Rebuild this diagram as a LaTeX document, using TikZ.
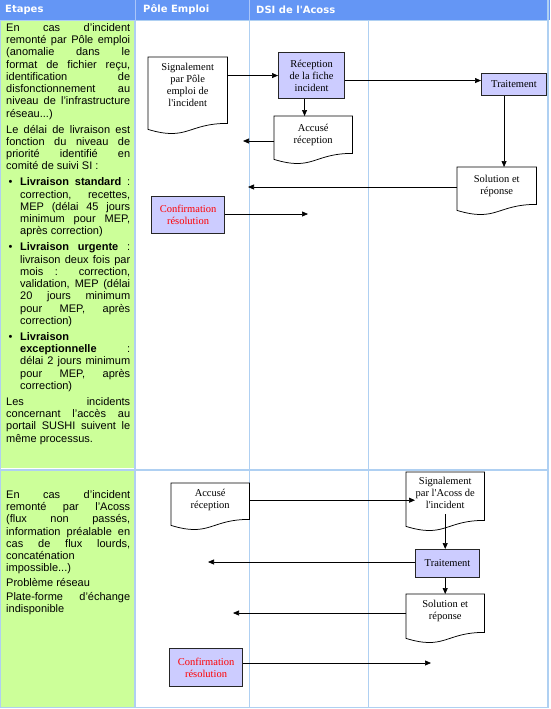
\documentclass[tikz,border=0pt]{standalone}
\usepackage{fontspec}
\setmainfont{Liberation Sans}
\newfontfamily\boxfont{Liberation Serif}
\newfontfamily\headfont{DejaVu Sans}
\usetikzlibrary{arrows.meta}
\usetikzlibrary{calc}

\definecolor{headblue}{RGB}{100,150,245}
\definecolor{gridblue}{RGB}{175,208,242}
\definecolor{stepgreen}{RGB}{204,255,153}
\definecolor{boxlilac}{RGB}{204,204,255}

\newcommand{\docoutline}[2]{%
  \draw[docline] (#1.north west) -- (#1.north east) -- ([yshift=-#2pt]#1.south east)
    .. controls ([yshift=-#2pt]#1.south) and ([yshift=-#2pt-18pt]#1.south)
    .. ([yshift=-#2pt-6pt]#1.south west) -- cycle;}
\newcommand{\stepsetup}[1]{\setlength{\parindent}{0pt}\setlength{\parskip}{#1}%
  \hbadness=10000 \hyphenpenalty=10000 \exhyphenpenalty=10000\relax}
\newcommand{\bulletpar}{\hangindent=14pt\hangafter=1\noindent\makebox[14pt][l]{\hspace{2.5pt}•}}

\begin{document}
\begin{tikzpicture}[x=1pt,y=-1pt,
    gridline/.style={draw=gridblue, line width=1.2pt},
    headtext/.style={anchor=west, inner sep=0pt, text=white, font=\headfont\bfseries\fontsize{10}{11}\selectfont},
    steptext/.style={anchor=north west, inner sep=0pt, text width=124pt, align=justify,
      font=\fontsize{11}{12.3}\selectfont},
    boxtext/.style={inner sep=0pt, align=center, anchor=north west, font=\boxfont\fontsize{10.5}{12}\selectfont},
    procbox/.style={boxtext, draw=black!85, line width=1.1pt, fill=boxlilac},
    docbox/.style={boxtext},
    docline/.style={draw=black, line width=0.75pt},
    flow/.style={-{Triangle[length=6pt,width=5pt]}, line width=0.7pt}]

  \useasboundingbox (0,0) rectangle (550,709);
  \fill[white] (0,0) rectangle (550,709);
  \fill[headblue] (0,0) rectangle (550,20);
  \fill[stepgreen] (1,21) rectangle (134,468);
  \fill[stepgreen] (1,471) rectangle (134,707);

  \draw[gridline] (0.6,20.5) -- (548,20.5);
  \draw[gridline, line width=2pt] (0.6,469.5) -- (548,469.5);
  \draw[gridline] (0.6,707.6) -- (548,707.6);
  \draw[gridline] (0.6,20) -- (0.6,708);
  \draw[gridline] (135,20) -- (135,708);
  \draw[gridline] (249.5,20) -- (249.5,708);
  \draw[gridline] (368.5,20) -- (368.5,708);
  \draw[gridline] (548,0) -- (548,708);
  \draw[headblue!55!white, line width=1pt] (135,0) -- (135,20);
  \draw[headblue!55!white, line width=1pt] (249.5,0) -- (249.5,20);

  \node[headtext] (headSteps) at (5,10) {Etapes};
  \node[headtext] (headPole) at (143,10) {Pôle Emploi};
  \node[headtext] (headDsi) at (256,10) {DSI de l'Acoss};

  \node[steptext] (stepsPole) at (6,23) {\stepsetup{3.5pt}%
    En cas d'incident\linebreak remonté par Pôle emploi\linebreak (anomalie dans le\linebreak
    format de fichier reçu,\linebreak identification de\linebreak disfonctionnement au\linebreak
    niveau de l'infrastructure\linebreak réseau...)\par
    Le délai de livraison est\linebreak fonction du niveau de\linebreak priorité identifié en\linebreak
    comité de suivi SI~:\par
    \bulletpar\textbf{Livraison standard}~:\linebreak correction, recettes,\linebreak
    MEP (délai 45 jours\linebreak minimum pour MEP,\linebreak après correction)\par
    \bulletpar\textbf{Livraison urgente}~:\linebreak livraison deux fois par\linebreak
    mois~: correction,\linebreak validation, MEP (délai\linebreak 20 jours minimum\linebreak
    pour MEP, après\linebreak correction)\par
    \bulletpar\textbf{Livraison}\linebreak \textbf{exceptionnelle}~:\linebreak
    délai 2 jours minimum\linebreak pour MEP, après\linebreak correction)\par
    Les incidents\linebreak concernant l'accès au\linebreak portail SUSHI suivent le\linebreak
    même processus.};

  \node[steptext] (stepsAcoss) at (6,490) {\stepsetup{2pt}%
    En cas d'incident\linebreak remonté par l'Acoss\linebreak (flux non passés,\linebreak
    information préalable en\linebreak cas de flux lourds,\linebreak concaténation\linebreak
    impossible...)\par
    Problème réseau\par
    Plate-forme d'échange\linebreak indisponible};

  \node[docbox, minimum width=79, minimum height=55] (sigPole) at (148,57)
    {Signalement\\par Pôle\\emploi de\\l'incident};
  \node[procbox, minimum width=66, minimum height=46] (recep) at (278,52)
    {Réception\\de la fiche\\incident};
  \node[procbox, minimum width=65, minimum height=22] (trait1) at (481,73) {Traitement};
  \node[docbox, minimum width=78, minimum height=37] (accus1) at (274,116) {Accusé\\réception};
  \node[docbox, minimum width=79, minimum height=37] (sol1) at (457,167) {Solution et\\réponse};
  \node[procbox, text=red, minimum width=73, minimum height=37] (conf1) at (151,196)
    {Confirmation\\résolution};

  \node[docbox, minimum width=78, minimum height=34] (accus2) at (171,483) {Accusé\\réception};
  \node[docbox, minimum width=78, minimum height=42] (sig2) at (406,472)
    {Signalement\\par l'Acoss de\\l'incident};
  \node[procbox, minimum width=64, minimum height=28] (trait2) at (415,549) {Traitement};
  \node[docbox, minimum width=78, minimum height=34] (sol2) at (406,594) {Solution et\\réponse};
  \node[procbox, text=red, minimum width=73, minimum height=38] (conf2) at (169,648)
    {Confirmation\\résolution};

  \docoutline{sigPole}{11}
  \docoutline{accus1}{0}
  \docoutline{sol1}{0}
  \docoutline{accus2}{2}
  \docoutline{sig2}{6}
  \docoutline{sol2}{4}

  \coordinate (recepOut) at ([yshift=-5pt]recep.east);
  \coordinate (recepDown) at ([xshift=-7pt]recep.south);
  \coordinate (traitDown) at ([xshift=-10pt]trait1.south);
  \coordinate (accusEnd1) at (243,141);
  \coordinate (solEnd1) at (248,187);
  \coordinate (confEnd1) at (308,214);
  \coordinate (sigIn) at ($(sig2.west |- accus2.east)+(9,0)$);
  \coordinate (traitEnd2) at (208,562);
  \coordinate (solEnd2) at (233,613);
  \coordinate (confEnd2) at (431,663);

  \draw[flow] (sigPole.east |- recep.west) -- (recep.west);
  \draw[flow] (recepOut) -- (recepOut -| trait1.west);
  \draw[flow] (recepDown) -- (recepDown |- accus1.north);
  \draw[flow] (accus1.west |- accusEnd1) -- (accusEnd1);
  \draw[flow] (traitDown) -- (traitDown |- sol1.north);
  \draw[flow] (sol1.west |- solEnd1) -- (solEnd1);
  \draw[flow] (conf1.east |- confEnd1) -- (confEnd1);

  \draw[flow] (accus2.east) -- (sigIn);
  \draw[flow] (sig2.south) -- (sig2.south |- trait2.north);
  \draw[flow] (trait2.west |- traitEnd2) -- (traitEnd2);
  \draw[flow] (sig2.south |- trait2.south) -- (sig2.south |- sol2.north);
  \draw[flow] (sol2.west |- solEnd2) -- (solEnd2);
  \draw[flow] (conf2.east |- confEnd2) -- (confEnd2);
\end{tikzpicture}
\end{document}
